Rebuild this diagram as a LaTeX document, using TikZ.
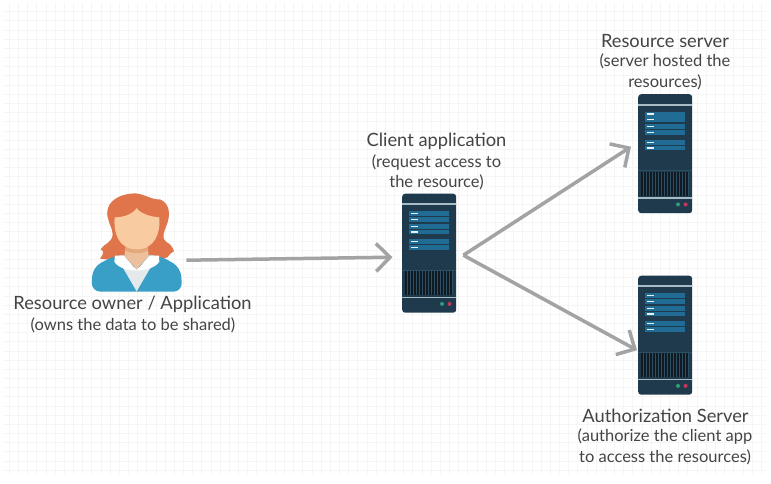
\documentclass[tikz,border=0pt]{standalone}
\usepackage{fontspec}
\setmainfont{Lato}
\usepackage{xcolor}
\usetikzlibrary{arrows.meta, positioning, calc}
\definecolor{srvdark}{HTML}{1F3A4D}
\definecolor{srvrow}{HTML}{216C95}
\definecolor{srvvent}{HTML}{0F1A22}
\definecolor{srvgap}{HTML}{2B5063}
\definecolor{srvband}{HTML}{A8BCC6}
\definecolor{srvgreen}{HTML}{2E9E7A}
\definecolor{srvred}{HTML}{C0395A}
\definecolor{hair}{HTML}{E0744A}
\definecolor{skin}{HTML}{F9CBA0}
\definecolor{neck}{HTML}{EDC09B}
\definecolor{chin}{HTML}{E3A97C}
\definecolor{jacket}{HTML}{3A9FC6}
\definecolor{shirt}{HTML}{E4EAEB}
\definecolor{txt}{HTML}{444444}
\definecolor{arrowgray}{HTML}{A3A3A3}
\definecolor{gridline}{HTML}{F5F5F5}
\tikzset{
  title/.style={font=\fontsize{18.3}{22}\selectfont, text=txt, inner sep=0pt, align=center},
  sub/.style={font=\fontsize{16.5}{20.5}\selectfont, text=txt, inner sep=0pt, align=center},
  srvbox/.style={rectangle, fill=srvdark, rounded corners=3pt, minimum width=54pt, minimum height=119pt, inner sep=0pt, anchor=north west},
  arr/.style={-{Straight Barb[length=14pt, width=28pt, line width=3.5pt]}, line width=3.5pt, arrowgray},
}
\newcommand{\drawserver}[3]{%
  \node[srvbox] (#1) at (#2, #3) {};
  \begin{scope}[shift={(#2, #3)}]
    \fill[srvband] (0, 9.6) rectangle (54, 11.6);
    \foreach \r in {17.7, 23.4, 30.4, 36.1, 45.9, 51.6} {
      \fill[srvrow] (7.3, \r) rectangle (46.6, \r + 4.8);
      \fill[white!90!srvrow] (8.8, \r + 1.6) rectangle (15.8, \r + 3);
    }
    \fill[srvgap] (0, 76) rectangle (54, 76.8);
    \fill[srvgap] (3, 77.5) rectangle (51, 101.7);
    \foreach \i in {0,...,15} {
      \fill[srvvent] (3 + \i * 3, 77.5) rectangle (5 + \i * 3, 101.7);
    }
    \fill[srvband] (0, 103) rectangle (54, 104.8);
    \fill[srvgreen] (40, 110.4) circle (2);
    \fill[srvred] (47.6, 110.4) circle (2);
  \end{scope}
}
\begin{document}
\begin{tikzpicture}[x=1pt, y=-1pt]
  \useasboundingbox (0, 0) rectangle (771, 483);
  \fill[white] (0, 0) rectangle (771, 483);

  % Paper grid
  \foreach \k in {0,...,82} {
    \draw[gridline, line width=0.8pt] ({9.3 + \k * 9.17}, 3) -- ({9.3 + \k * 9.17}, 474);
  }
  \foreach \k in {0,...,50} {
    \draw[gridline, line width=0.8pt] (4, {11.7 + \k * 9.17}) -- (766, {11.7 + \k * 9.17});
  }

  % Resource owner
  \node[inner sep=0pt, minimum width=91pt, minimum height=95pt, anchor=north west] (owner) at (92, 197) {};
  \begin{scope}[shift={(80, 180)}, x=0.3333pt, y=-0.3333pt]
    \fill[hair] (85,118) .. controls (70,75) and (105,42) .. (165,40)
      .. controls (195,42) and (215,60) .. (240,58)
      .. controls (268,70) and (272,100) .. (262,130)
      .. controls (250,160) and (245,175) .. (258,185)
      .. controls (270,192) and (278,200) .. (282,214)
      .. controls (272,215) and (270,225) .. (262,232)
      -- (240,240) -- (100,240) -- (60,236)
      .. controls (72,222) and (72,212) .. (62,208)
      .. controls (72,190) and (95,190) .. (98,165)
      .. controls (98,145) and (88,135) .. (85,118) -- cycle;
    \fill[jacket, rounded corners=9pt] (34,335) -- (38,262) -- (105,226) -- (238,226) -- (302,262) -- (307,335) -- cycle;
    \fill[shirt] (128,262) -- (212,262) -- (170,334) -- cycle;
    \fill[white] (105,227) -- (132,226) -- (170,272) -- (138,268) .. controls (120,262) and (108,255) .. (103,245) -- cycle;
    \fill[white] (237,227) -- (208,226) -- (170,272) -- (202,268) .. controls (220,262) and (232,255) .. (238,245) -- cycle;
    \fill[neck] (138,195) -- (203,195) -- (206,228) -- (170,268) -- (133,228) -- cycle;
    \fill[chin] (138,195) -- (203,195) -- (204,212) .. controls (185,222) and (155,222) .. (136,212) -- cycle;
    \fill[skin] (104,112) .. controls (135,112) and (160,100) .. (170,84)
      .. controls (180,100) and (210,110) .. (238,112)
      .. controls (242,160) and (224,208) .. (170,208)
      .. controls (116,208) and (100,160) .. (104,112) -- cycle;
  \end{scope}

  % Servers
  \drawserver{client}{402}{193.5}
  \drawserver{resource}{638}{94}
  \drawserver{auth}{638}{275.5}

  % Labels
  \node[title] (ownertitle) at (132.5, 304.5) {Resource owner / Application};
  \node[sub] (ownersub) at (133, 325) {(owns the data to be shared)};
  \node[title] (clienttitle) at (436.5, 141.5) {Client application};
  \node[sub] (clientsub) at (436.5, 172.5) {(request access to\\the resource)};
  \node[title] (resourcetitle) at (665, 41.5) {Resource server};
  \node[sub] (resourcesub) at (665, 72) {(server hosted the\\resources)};
  \node[title] (authtitle) at (665.5, 415.5) {Authorization Server};
  \node[sub] (authsub) at (665, 447) {(authorize the client app\\to access the resources)};

  % Connectors
  \coordinate (hub) at ($(client.east) + (7, 2)$);
  \draw[arr] ($(owner.east) + (3, 15.5)$) -- ($(client.west) + (-9.5, 4)$);
  \draw[arr] (hub) -- ($(resource.west) + (-7, -7)$);
  \draw[arr] (hub) -- ($(auth.west) + (-1, 15)$);
\end{tikzpicture}
\end{document}
